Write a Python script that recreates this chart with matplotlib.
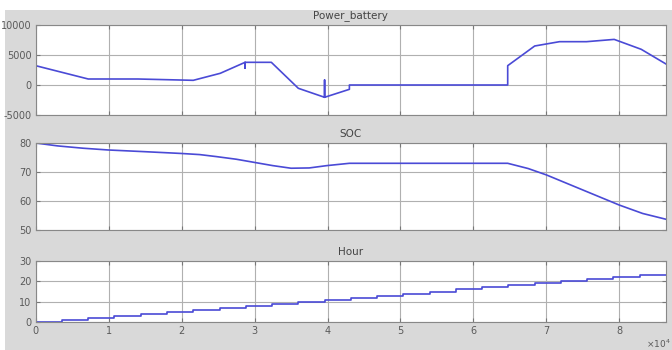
import matplotlib
matplotlib.use("Agg")
import matplotlib.pyplot as plt
from matplotlib.patches import Rectangle

plt.rcParams["axes.unicode_minus"] = False

# Power_battery series (time in s, power in W)
power_t = [0, 7200, 14000, 21600, 25300, 28700, 28700, 28700, 32300, 36000, 39600, 39600, 39600,
           43000, 43000, 64700, 64700, 68400, 71800, 75500, 79300, 83000, 86400]
power_v = [3220, 1000, 1000, 780, 1950, 3780, 2800, 3780, 3780, -550, -2050, 830, -2050,
           -720, 0, 0, 3220, 6500, 7220, 7220, 7600, 5950, 3500]

# SOC series
soc_t = [0, 3000, 6500, 9900, 15000, 19900, 22500, 24800, 27500, 30000, 32500, 35000, 37500,
         39900, 43000, 50000, 64700, 67500, 70000, 75000, 80000, 83200, 86400]
soc_v = [80, 79.0, 78.2, 77.6, 77.0, 76.4, 76.0, 75.3, 74.4, 73.3, 72.2, 71.3, 71.4,
         72.2, 73, 73, 73, 71.2, 69, 63.8, 58.6, 55.7, 53.7]

# Hour series (step)
hour_t = [0, 3600, 7200, 10800, 14400, 18000, 21600, 25200, 28800, 32400, 36000, 39600, 43200,
          46800, 50400, 54000, 57600, 61200, 64800, 68400, 72000, 75600, 79200, 82800, 86400]
hour_v = [0, 1, 2, 3, 4, 5, 6, 7, 8, 9, 10, 11, 12,
          13, 14, 15, 16, 17, 18, 19, 20, 21, 22, 23, 23]

x_ticks = [0, 10000, 20000, 30000, 40000, 50000, 60000, 70000, 80000]
x_labels = ["0", "1", "2", "3", "4", "5", "6", "7", "8"]

titles = ["Power_battery", "SOC", "Hour"]
ylims = [(-5000, 10000), (50, 80), (0, 30)]
yticks = [[-5000, 0, 5000, 10000], [50, 60, 70, 80], [0, 10, 20, 30]]

line_color = "#4a4ad6"
bg = "#d9d9d9"
tick_color = "#5a5a5a"

fig = plt.figure(figsize=(6.72, 3.5), dpi=100, facecolor=bg)
# white border at top and left
fig.patches.append(Rectangle((0, 1 - 10 / 350), 1, 10 / 350, transform=fig.transFigure,
                             facecolor="white", edgecolor="none", zorder=-1))
fig.patches.append(Rectangle((0, 0), 5 / 672, 1, transform=fig.transFigure,
                             facecolor="white", edgecolor="none", zorder=-1))

left = 35.7 / 672
width = (666 - 35.7) / 672
boxes = [(25, 115), (143, 230), (261, 322)]
series = [(power_t, power_v, False), (soc_t, soc_v, False), (hour_t, hour_v, True)]

for i, ((top, bot), (tx, vy, step)) in enumerate(zip(boxes, series)):
    ax = fig.add_axes([left, 1 - bot / 350, width, (bot - top) / 350])
    ax.set_facecolor("white")
    if step:
        ax.step(tx, vy, where="post", color=line_color, lw=1.2)
    else:
        ax.plot(tx, vy, color=line_color, lw=1.2)
    ax.set_xlim(0, 86400)
    ax.set_ylim(*ylims[i])
    ax.set_yticks(yticks[i])
    ax.set_xticks(x_ticks)
    if i == 2:
        ax.set_xticklabels(x_labels)
    else:
        ax.set_xticklabels([])
    ax.grid(True, color="#b0b0b0", lw=0.8)
    ax.tick_params(direction="in", top=True, right=True, length=3, labelsize=7,
                   colors="#777777", labelcolor=tick_color, pad=3)
    for s in ax.spines.values():
        s.set_color("#888888")
        s.set_linewidth(0.8)
    fig.text((35.7 + 666) / 2 / 672, 1 - (top - 9) / 350, titles[i], ha="center", va="center",
             fontsize=7.5, color="#444444")

fig.text(658 / 672, 1 - 344 / 350, r"$\times10^4$", ha="center", va="center", fontsize=6.5,
         color=tick_color)

fig.savefig("out.png", dpi=100, facecolor=bg)
